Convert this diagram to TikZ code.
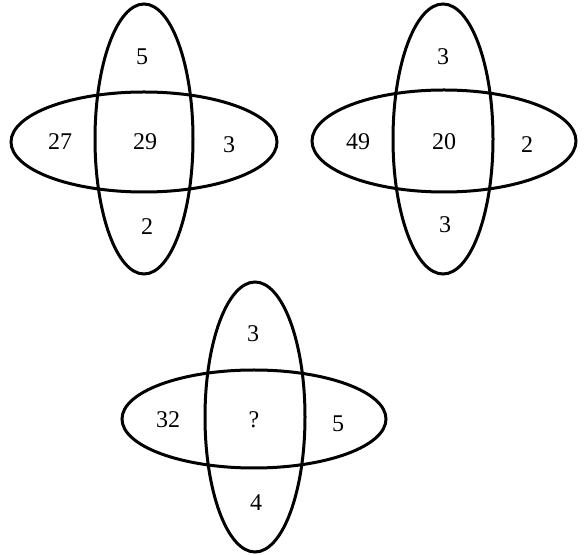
\documentclass[tikz,border=0pt]{standalone}
\usepackage{fontspec}
\setmainfont{Liberation Serif}
\usepackage{tikz}
\tikzset{
  ring/.style={draw=black,line width=1.5pt},
  num/.style={font=\fontsize{12}{14}\selectfont,inner sep=1pt},
}

\begin{document}
\begin{tikzpicture}[x=0.5pt,y=-0.5pt]
  \useasboundingbox (0,0) rectangle (584,555);

  % first figure
  \draw[ring] (144,139) ellipse [x radius=49,y radius=135];
  \draw[ring] (144,142) ellipse [x radius=133,y radius=50];
  \node[num] (a-top) at (142,57) {5};
  \node[num] (a-left) at (60,142) {27};
  \node[num] (a-mid) at (145,142) {29};
  \node[num] (a-right) at (229,145) {3};
  \node[num] (a-bot) at (147,227) {2};

  % second figure
  \draw[ring] (443,139) ellipse [x radius=50,y radius=135];
  \draw[ring] (444,141) ellipse [x radius=132,y radius=51];
  \node[num] (b-top) at (443,57) {3};
  \node[num] (b-left) at (358,142) {49};
  \node[num] (b-mid) at (444,142) {20};
  \node[num] (b-right) at (527,145) {2};
  \node[num] (b-bot) at (445,225) {3};

  % third figure
  \draw[ring] (255,417) ellipse [x radius=50,y radius=135];
  \draw[ring] (254,419) ellipse [x radius=132,y radius=49];
  \node[num] (c-top) at (253,334) {3};
  \node[num] (c-left) at (168,420) {32};
  \node[num] (c-mid) at (254,420) {?};
  \node[num] (c-right) at (338,424) {5};
  \node[num] (c-bot) at (256,503) {4};
\end{tikzpicture}
\end{document}
